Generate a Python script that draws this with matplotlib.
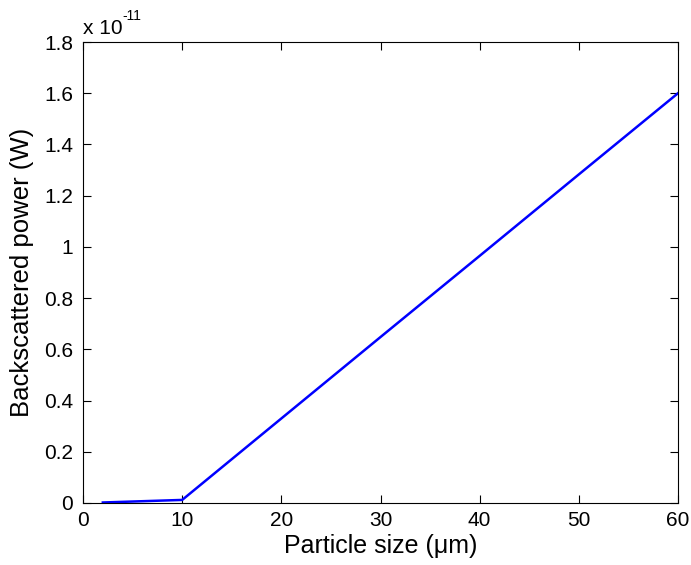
import matplotlib
matplotlib.use("Agg")
import matplotlib.pyplot as plt

plt.rcParams["font.family"] = ["Liberation Sans", "DejaVu Sans"]

# particle size (um) and backscattered power (x1e-11 W)
particle_size = [2, 10, 20, 30, 40, 50, 60]
power_e11 = [0.002, 0.012, 0.330, 0.648, 0.965, 1.283, 1.600]

fig = plt.figure(figsize=(6.91, 5.65), dpi=100)
ax = fig.add_axes([83 / 691, 1 - 503 / 565, 595 / 691, 461 / 565])

ax.plot(particle_size, power_e11, color="#0000ff", linewidth=1.8)

ax.set_xlim(0, 60)
ax.set_ylim(0, 1.8)
ax.set_xticks(range(0, 61, 10))
ax.set_yticks([i * 0.2 for i in range(10)])
ax.set_yticklabels(["0"] + ["%g" % round(i * 0.2, 1) for i in range(1, 10)])

ax.tick_params(direction="in", top=True, right=True, labelsize=15, length=6,
               width=0.8)
ax.tick_params(axis="x", pad=6)
ax.tick_params(axis="y", pad=7)
for s in ax.spines.values():
    s.set_linewidth(0.8)

ax.set_xlabel("Particle size (μm)", fontsize=18, labelpad=3)
ax.set_ylabel("Backscattered power (W)", fontsize=18.5, labelpad=7)

# MATLAB-style exponent label above the y axis
ax.annotate("x 10", xy=(0, 1), xycoords="axes fraction", xytext=(0, 3),
            textcoords="offset points", fontsize=15, ha="left", va="bottom")
ax.annotate("-11", xy=(0, 1), xycoords="axes fraction", xytext=(28, 14),
            textcoords="offset points", fontsize=10, ha="left", va="bottom")

fig.savefig("out.png", dpi=100)
